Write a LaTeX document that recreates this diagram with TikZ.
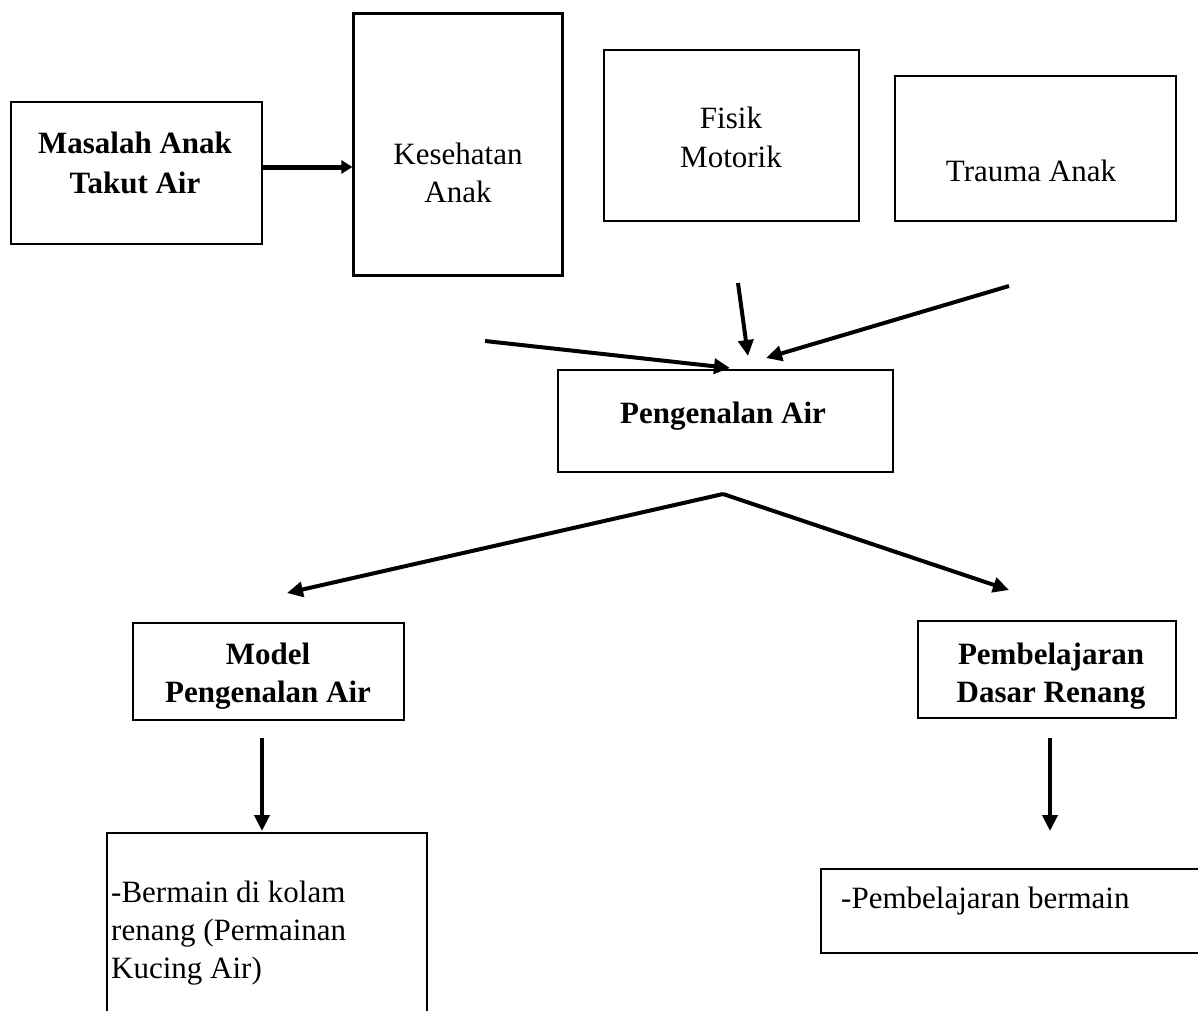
\documentclass[tikz,border=0pt]{standalone}
\usepackage{fontspec}
\setmainfont{Liberation Serif}
\usetikzlibrary{arrows.meta}
\begin{document}
\begin{tikzpicture}[x=1pt,y=-1pt,
  box/.style={draw=black,line width=2.2pt,inner sep=0pt},
  txt/.style={anchor=base,inner sep=0pt,font=\fontsize{31}{38}\selectfont},
  btxt/.style={txt,font=\fontsize{31}{38}\selectfont\bfseries},
  ltxt/.style={txt,anchor=base west},
  arr/.style={line width=4pt,-{Triangle[length=16pt,width=15pt]}},
  arrs/.style={line width=5pt,-{Triangle[length=11pt,width=13pt]}}]
\useasboundingbox (0,0) rectangle (1198,1010);
\fill[white] (0,0) rectangle (1198,1010);
% boxes
\node[box,minimum width=251pt,minimum height=142pt] (masalah) at (136.5,173) {};
\node[box,minimum width=209pt,minimum height=262pt] (kesehatan) at (458,144.5) {};
\node[box,minimum width=255pt,minimum height=171pt] (fisik) at (731.5,135.5) {};
\node[box,minimum width=281pt,minimum height=145pt] (trauma) at (1035.5,148.5) {};
\node[box,minimum width=335pt,minimum height=102pt] (pengenalan) at (725.5,421) {};
\node[box,minimum width=271pt,minimum height=97pt] (model) at (268.5,671.5) {};
\node[box,minimum width=258pt,minimum height=97pt] (pembelajaran) at (1047,669.5) {};
\node[box,minimum width=320pt,minimum height=220pt] (bermain) at (267,943) {};
\node[box,minimum width=400pt,minimum height=84pt] (pbermain) at (1021,911) {};
% texts
\node[btxt] (t1a) at (135,153) {Masalah Anak};
\node[btxt] (t1b) at (135,193) {Takut Air};
\node[txt] (t2a) at (458,164) {Kesehatan};
\node[txt] (t2b) at (458,202) {Anak};
\node[txt] (t3a) at (731,128) {Fisik};
\node[txt] (t3b) at (731,167) {Motorik};
\node[txt] (t4) at (1031,181) {Trauma Anak};
\node[btxt] (t5) at (723,423) {Pengenalan Air};
\node[btxt] (t6a) at (268,664) {Model};
\node[btxt] (t6b) at (268,702) {Pengenalan Air};
\node[btxt] (t7a) at (1051,664) {Pembelajaran};
\node[btxt] (t7b) at (1051,702) {Dasar Renang};
\node[ltxt] (t8a) at (111,902) {-Bermain di kolam};
\node[ltxt] (t8b) at (111,940) {renang (Permainan};
\node[ltxt] (t8c) at (111,978) {Kucing Air)};
\node[ltxt] (t9) at (841,908) {-Pembelajaran bermain};
% free ends
\coordinate (l1s) at (485,341);
\coordinate (l1e) at (730,368);
\coordinate (m1s) at (738,283);
\coordinate (m1e) at (748,356);
\coordinate (r1s) at (1009,286);
\coordinate (r1e) at (766,358);
\coordinate (apex) at (723,494);
\coordinate (lt) at (287,593);
\coordinate (rt) at (1009,590);
\coordinate (d1s) at (262,738);
\coordinate (d1e) at (262,831);
\coordinate (d2s) at (1050,738);
\coordinate (d2e) at (1050,831);
% connectors
\draw[arrs] ([yshift=6pt]masalah.east) -- ([yshift=6pt]masalah.east -| kesehatan.west);
\draw[arr] (l1s) -- (l1e);
\draw[arr] (m1s) -- (m1e);
\draw[arr] (r1s) -- (r1e);
\draw[arr] (apex) -- (lt);
\draw[arr] (apex) -- (rt);
\draw[arr] (d1s) -- (d1e);
\draw[arr] (d2s) -- (d2e);
\end{tikzpicture}
\end{document}
